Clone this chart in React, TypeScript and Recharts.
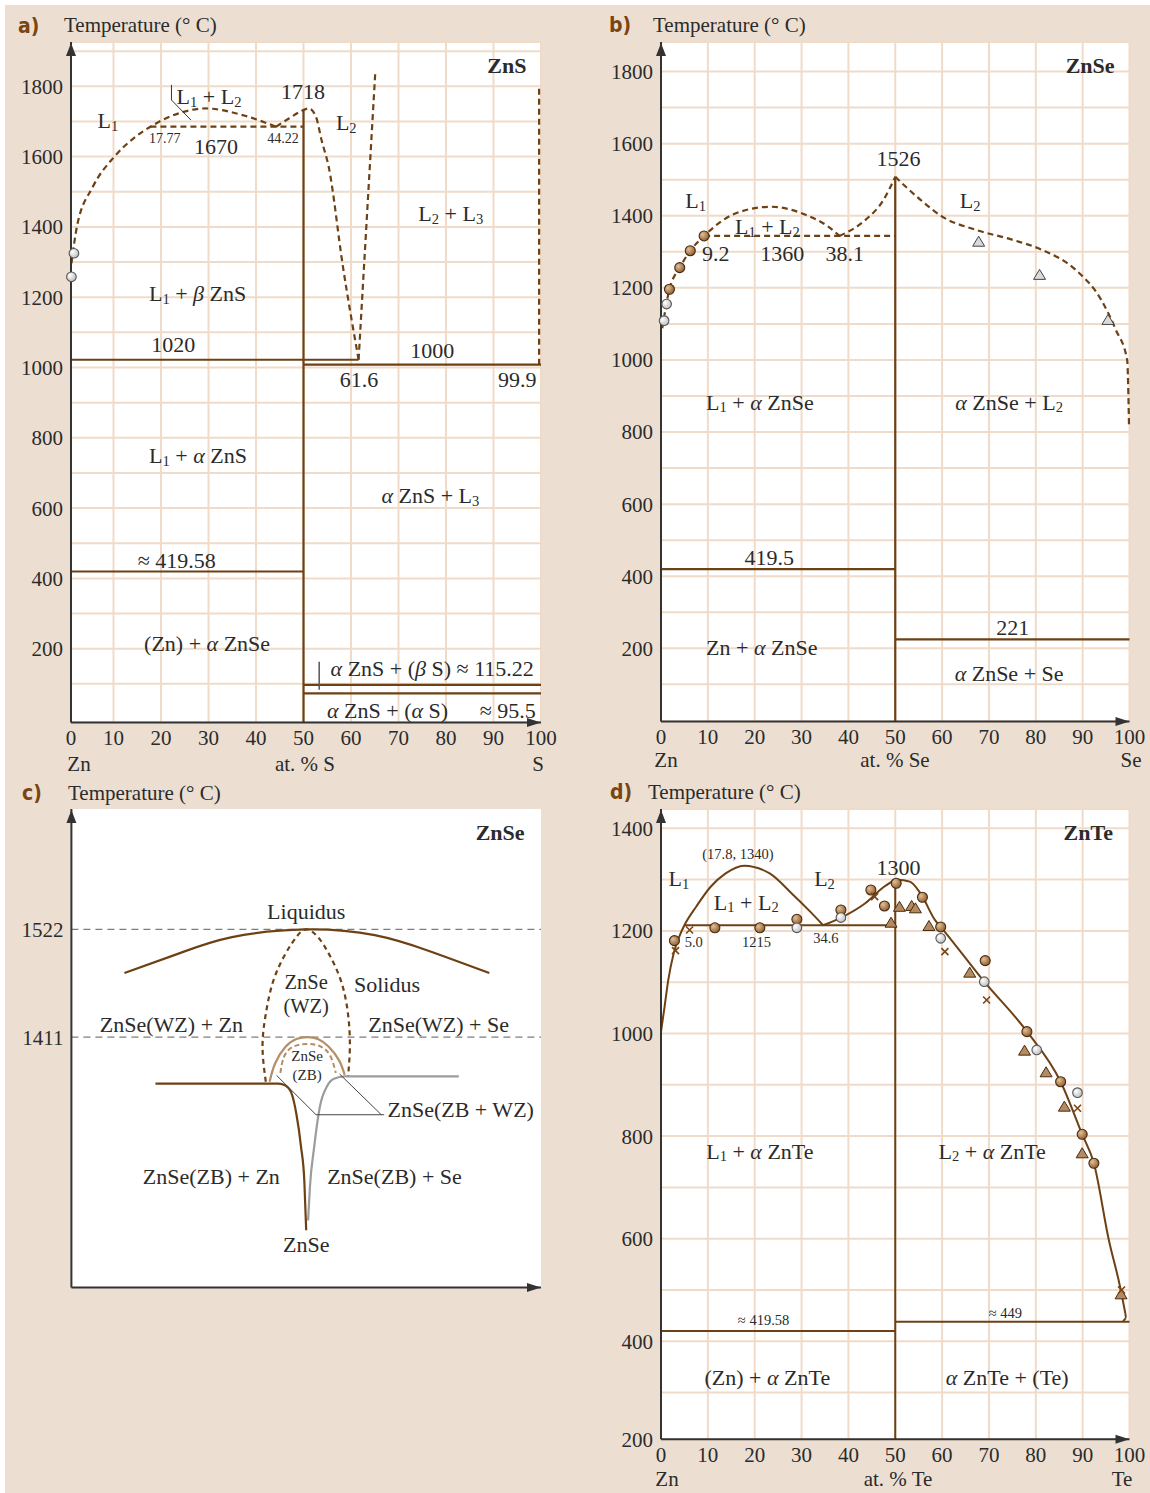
import React from "react";
import { CartesianGrid, ComposedChart, Line, Scatter, XAxis, YAxis } from "recharts";

const SERIF = "'Liberation Serif', 'Times New Roman', serif";
const INK = "#2b2b2b";
const BROWN = "#6d4114";
const TAN = "#b48e69";
const GREY = "#9c9c9c";
const GRID = "#f0dbc9";
const BG = "#ecdfd2";
const DASH = "6 4";

// shared composition axis
const pctTicks = [0, 10, 20, 30, 40, 50, 60, 70, 80, 90, 100];

// ---------- a) Zn–S ----------
const aXTicks = [1.05, 10, 20, 30, 40, 50, 60, 70, 80, 90, 100];
const aYTicks = [100, 200, 300, 400, 500, 600, 700, 800, 900, 1000, 1100, 1200, 1300, 1400, 1500, 1600, 1700, 1800, 1900];
const aLiquidus1 = [[1.14, 1296], [2.3, 1401], [5.65, 1514], [10.2, 1600], [14.7, 1657], [17.77, 1685], [23.7, 1723], [29.3, 1737], [37.2, 1718], [44.22, 1685]];
const aLiquidus2 = [[44.22, 1685], [47, 1709], [49.3, 1728], [51.1, 1737], [52.6, 1714], [53.8, 1647], [55.3, 1571], [58.3, 1287], [61.6, 1022]];
const aLiquidus3 = [[61.6, 1022], [65.1, 1837]];
const aSulfurSide = [[99.6, 1008], [99.6, 1804]];
const aMonotectic = [[17.77, 1685], [50, 1685]];
const aCompound = [[50, -10], [50, 1733]];
const a1020 = [[1.05, 1022], [61.6, 1022]];
const a1000 = [[50, 1008], [100, 1008]];
const a419 = [[1.05, 419.58], [50, 419.58]];
const a115 = [[50, 97], [100, 97]];
const a95 = [[50, 73], [100, 73]];
const aLeader = [[22.2, 1804], [22.2, 1761], [26.3, 1704]];
const aBar = [[53.3, 163], [53.3, 83]];
const aGreyDots = [[1.14, 1258], [1.67, 1325]];
const aLabels = [
  { x: 8.8, y: 1704, t: "L_1" },
  { x: 30.1, y: 1772, t: "L_1 + L_2" },
  { x: 49.9, y: 1788, t: "1718" },
  { x: 59, y: 1699, t: "L_2" },
  { x: 31.6, y: 1631, t: "1670" },
  { x: 81, y: 1439, t: "L_2 + L_3" },
  { x: 27.7, y: 1211, t: "L_1 + β ZnS" },
  { x: 22.6, y: 1067, t: "1020" },
  { x: 77.1, y: 1050, t: "1000" },
  { x: 61.7, y: 966, t: "61.6" },
  { x: 95, y: 966, t: "99.9" },
  { x: 27.8, y: 751, t: "L_1 + α ZnS" },
  { x: 76.7, y: 637, t: "α ZnS + L_3" },
  { x: 23.3, y: 452, t: "≈ 419.58" },
  { x: 29.7, y: 215, t: "(Zn) + α ZnSe" },
  { x: 77.1, y: 144, t: "α ZnS + (β S) ≈ 115.22" },
  { x: 67.7, y: 26, t: "α ZnS + (α S)" },
  { x: 93, y: 26, t: "≈ 95.5" },
];
const aSmall = [
  { x: 20.8, y: 1652, t: "17.77" },
  { x: 45.7, y: 1652, t: "44.22" },
];
const aTitle = [{ x: 92.8, y: 1861, t: "ZnS" }];

// ---------- b) Zn–Se ----------
const bYTicks = [100, 200, 300, 400, 500, 600, 700, 800, 900, 1000, 1100, 1200, 1300, 1400, 1500, 1600, 1700, 1800];
const bLiquidusLeft = [[0.27, 1088], [1.8, 1196], [4, 1256], [6.25, 1303], [9.2, 1344], [16, 1407], [23.5, 1425], [31, 1402], [35.7, 1370], [38.1, 1344]];
const bLiquidusMid = [[38.1, 1344], [43.6, 1388], [47.5, 1444], [50, 1508]];
const bLiquidusRight = [[50, 1508], [55.4, 1444], [60.1, 1397], [67.2, 1361], [75.1, 1333], [81.4, 1305], [88.5, 1250], [94, 1166], [97.1, 1083], [99.5, 1000], [99.9, 815]];
const bMonotectic = [[9.2, 1344], [50, 1344]];
const bCompound = [[50, -3], [50, 1508]];
const b419 = [[0, 419.5], [50, 419.5]];
const b221 = [[50, 225], [100, 225]];
const bGreyDots = [[0.66, 1109], [1.2, 1155]];
const bBrownDots = [[1.8, 1196], [4, 1256], [6.25, 1303], [9.2, 1344]];
const bGreyTri = [[67.8, 1328], [80.8, 1236], [95.4, 1111]];
const bLabels = [
  { x: 50.7, y: 1559, t: "1526" },
  { x: 7.4, y: 1444, t: "L_1" },
  { x: 66, y: 1444, t: "L_2" },
  { x: 22.7, y: 1372, t: "L_1 + L_2" },
  { x: 11.7, y: 1296, t: "9.2" },
  { x: 25.9, y: 1296, t: "1360" },
  { x: 39.2, y: 1296, t: "38.1" },
  { x: 21.1, y: 884, t: "L_1 + α ZnSe" },
  { x: 74.3, y: 884, t: "α ZnSe + L_2" },
  { x: 23.1, y: 454, t: "419.5" },
  { x: 75.1, y: 260, t: "221" },
  { x: 21.5, y: 205, t: "Zn + α ZnSe" },
  { x: 74.3, y: 131, t: "α ZnSe + Se" },
];
const bTitle = [{ x: 91.6, y: 1818, t: "ZnSe" }];

// ---------- c) ZnSe schematic ----------
const cYTicks = [1411, 1522];
const cLine1522 = [[0, 1522], [100, 1522]];
const cLine1411 = [[0, 1411], [100, 1411]];
const cLiquidus = [[11.3, 1477], [22.8, 1497], [34.2, 1514], [50.2, 1522], [64.6, 1516], [76, 1500], [89, 1477]];
const cWurtzite = [[41.4, 1365], [40.7, 1401], [41.4, 1435], [43, 1469], [45.6, 1497], [47.9, 1514], [50, 1522], [52.5, 1514], [54.8, 1497], [57.4, 1469], [58.9, 1435], [59.3, 1401], [58.9, 1370]];
const cZbOuter = [[42.2, 1365], [43.4, 1384], [45.6, 1401], [47.9, 1409], [50.2, 1411], [52.5, 1409], [54.8, 1401], [57, 1387], [58.2, 1372]];
const cZbInner = [[44.5, 1374], [45.3, 1391], [47.2, 1401], [50.2, 1404], [53.2, 1401], [55.2, 1391], [56.3, 1374]];
const cZnSide = [[17.9, 1363], [44.1, 1363], [45.6, 1361], [46.8, 1354], [47.9, 1332], [48.9, 1298], [49.6, 1263], [50, 1212]];
const cSeSide = [[50.4, 1222], [50.8, 1257], [51.7, 1298], [52.9, 1339], [54.4, 1360], [55.9, 1368], [58.2, 1370.5], [82.5, 1370.5]];
const cLeader1 = [[43.7, 1371.5], [52.1, 1331], [66.6, 1331]];
const cLeader2 = [[57.1, 1373], [66, 1331]];
const cLabels = [
  { x: 50, y: 1541, t: "Liquidus" },
  { x: 67.2, y: 1466, t: "Solidus" },
  { x: 21.3, y: 1425, t: "ZnSe(WZ) + Zn" },
  { x: 78.2, y: 1425, t: "ZnSe(WZ) + Se" },
  { x: 82.9, y: 1337, t: "ZnSe(ZB + WZ)" },
  { x: 29.8, y: 1268, t: "ZnSe(ZB) + Zn" },
  { x: 68.8, y: 1268, t: "ZnSe(ZB) + Se" },
  { x: 50, y: 1198, t: "ZnSe" },
];
const cWzLabel = [
  { x: 50, y: 1468, t: "ZnSe" },
  { x: 50, y: 1443, t: "(WZ)" },
];
const cSmall = [
  { x: 50.2, y: 1392, t: "ZnSe" },
  { x: 50.2, y: 1372, t: "(ZB)" },
];
const cTitle = [{ x: 91.3, y: 1622, t: "ZnSe" }];

// ---------- d) Zn–Te ----------
const dYTicks = [209, 300, 400, 500, 600, 700, 800, 900, 1000, 1100, 1200, 1300, 1400];
const dLiquidusLeft = [[0, 1003.6], [0.76, 1052], [1.55, 1104], [2.7, 1156], [3.9, 1189], [5, 1211], [7.5, 1247], [10.6, 1286], [13.8, 1312], [17.7, 1327], [23.2, 1312], [27.9, 1273], [31.9, 1237], [34.6, 1211]];
const dLiquidusMid = [[34.6, 1211], [38.9, 1228], [43.6, 1254], [47.6, 1286], [50, 1300]];
const dLiquidusRight = [[50, 1300], [53.1, 1296], [55.4, 1273], [58.5, 1221], [59.7, 1208], [69, 1101], [78.1, 1004], [85.3, 906], [89.9, 803.5], [92.4, 747], [95.6, 597], [98, 506], [99.1, 455]];
const dHook = [[99.1, 455], [99.3, 445], [98.6, 438]];
const dCompound = [[50, 209], [50, 1300]];
const d1215 = [[5, 1211], [50, 1211]];
const d419 = [[0, 420], [50, 420]];
const d449 = [[50, 438], [100, 438]];
const dBrownDots = [[2.87, 1181], [11.5, 1206], [21.1, 1206], [29, 1222.6], [38.4, 1240.8], [44.8, 1279.8], [47.7, 1248.6], [50.2, 1292.8], [55.8, 1265.5], [59.7, 1207.7], [69.2, 1142], [78.1, 1003.6], [85.3, 906], [89.9, 803.5], [92.4, 747]];
const dGreyDots = [[29, 1206], [38.4, 1226], [59.7, 1185.6], [69, 1101], [80.2, 968], [88.9, 884.7]];
const dTriangles = [[49.1, 1216], [50.9, 1247], [53.5, 1248.6], [54.3, 1244], [57.2, 1209.6], [65.9, 1118.6], [77.6, 966.6], [82.2, 924.4], [86.1, 857.4], [89.9, 766.5], [98.2, 491.6]];
const dCrosses = [[3.1, 1161.5], [6.1, 1201.8], [45.6, 1266.8], [60.6, 1159.6], [69.5, 1065.4], [88.9, 854.2], [98.3, 500]];
const dLabels = [
  { x: 3.8, y: 1302.5, t: "L_1" },
  { x: 34.9, y: 1302.5, t: "L_2" },
  { x: 18.2, y: 1257, t: "L_1 + L_2" },
  { x: 50.7, y: 1325, t: "1300" },
  { x: 21.1, y: 771.7, t: "L_1 + α ZnTe" },
  { x: 70.7, y: 771.7, t: "L_2 + α ZnTe" },
  { x: 22.7, y: 330, t: "(Zn) + α ZnTe" },
  { x: 73.9, y: 330, t: "α ZnTe + (Te)" },
];
const dSmall = [
  { x: 16.4, y: 1350, t: "(17.8, 1340)" },
  { x: 7, y: 1178, t: "5.0" },
  { x: 20.4, y: 1178, t: "1215" },
  { x: 35.2, y: 1187, t: "34.6" },
  { x: 21.9, y: 441.5, t: "≈ 419.58" },
  { x: 73.5, y: 454.6, t: "≈ 449" },
];
const dTitle = [{ x: 91.2, y: 1393.5, t: "ZnTe" }];

// ---------- helpers ----------
const toPts = (pairs: number[][]) => pairs.map(([x, y]) => ({ x, y }));
const tickStyle = { fill: INK, fontSize: 21, fontFamily: SERIF };
const axisLine = { stroke: "#333", strokeWidth: 2 };
// label only every 200 °C, grid every 100 °C
const every200 = (v: number) => (v < 300 && v > 150 ? "200" : v % 200 === 0 ? String(v) : "");

function RichText({ x, y, text, fs = 22, bold = false }: { x: number; y: number; text: string; fs?: number; bold?: boolean }) {
  const tokens: { t: string; sub?: boolean; it?: boolean }[] = [];
  for (let k = 0; k < text.length; k++) {
    const c = text[k];
    if (c === "_") {
      tokens.push({ t: text[k + 1], sub: true });
      k++;
      continue;
    }
    const it = c === "α" || c === "β";
    const last = tokens[tokens.length - 1];
    if (last && !last.sub && !!last.it === it) last.t += c;
    else tokens.push({ t: c, it });
  }
  const shift = fs * 0.26;
  let cur = 0;
  return (
    <text x={x} y={y} textAnchor="middle" dominantBaseline="central" fontSize={fs} fontFamily={SERIF} fontWeight={bold ? 700 : 400} fill={INK} style={{ whiteSpace: "pre" }}>
      {tokens.map((tk, i) => {
        const target = tk.sub ? shift : 0;
        const dy = target - cur;
        cur = target;
        return (
          <tspan key={i} dy={dy !== 0 ? dy : undefined} fontSize={tk.sub ? fs * 0.66 : undefined} fontStyle={tk.it ? "italic" : undefined}>
            {tk.t}
          </tspan>
        );
      })}
    </text>
  );
}

function Marker({ cx, cy, kind }: { cx: number; cy: number; kind: string }) {
  if (kind === "dot") return <circle cx={cx} cy={cy} r={5} fill="url(#dotGrad)" stroke="#4a2a0c" strokeWidth={1.1} />;
  if (kind === "grey") return <circle cx={cx} cy={cy} r={4.8} fill="url(#greyGrad)" stroke="#555" strokeWidth={1.1} />;
  if (kind === "tri") return <path d={`M${cx},${cy - 5.5}L${cx + 6},${cy + 4.5}L${cx - 6},${cy + 4.5}Z`} fill="#b48a62" stroke="#4a2a0c" strokeWidth={1} />;
  if (kind === "greyTri") return <path d={`M${cx},${cy - 5.5}L${cx + 6},${cy + 4.5}L${cx - 6},${cy + 4.5}Z`} fill="#dadada" stroke="#444" strokeWidth={1} />;
  if (kind === "cross")
    return <path d={`M${cx - 3.5},${cy - 3.5}L${cx + 3.5},${cy + 3.5}M${cx - 3.5},${cy + 3.5}L${cx + 3.5},${cy - 3.5}`} stroke="#7a4512" strokeWidth={1.6} />;
  if (kind === "arrowUp") return <path d={`M${cx},${cy + 1}L${cx + 5},${cy + 14}L${cx - 5},${cy + 14}Z`} fill="#333" />;
  if (kind === "arrowRight") return <path d={`M${cx},${cy}L${cx - 14},${cy - 4.5}L${cx - 14},${cy + 4.5}Z`} fill="#333" />;
  return <g />;
}

const gradients = () => (
  <defs>
    <radialGradient id="dotGrad" cx="35%" cy="35%" r="70%">
      <stop offset="0%" stopColor="#e2bf98" />
      <stop offset="100%" stopColor="#8d5c2e" />
    </radialGradient>
    <radialGradient id="greyGrad" cx="35%" cy="35%" r="70%">
      <stop offset="0%" stopColor="#ffffff" />
      <stop offset="100%" stopColor="#bdbdbd" />
    </radialGradient>
  </defs>
);

function curve(key: string, pairs: number[][], stroke: string, dash?: string, w = 2.2, type: any = "linear") {
  return (
    <Line
      key={key}
      data={toPts(pairs)}
      dataKey="y"
      type={type}
      stroke={stroke}
      strokeWidth={w}
      strokeDasharray={dash}
      dot={false}
      activeDot={false}
      legendType="none"
      isAnimationActive={false}
    />
  );
}

function labelLayer(key: string, list: { x: number; y: number; t: string }[], fs: number, bold = false) {
  return (
    <Scatter
      key={key}
      data={list}
      isAnimationActive={false}
      shape={(p: any) => <RichText x={p.cx} y={p.cy} text={p.payload.t} fs={fs} bold={bold} />}
    />
  );
}

function markerLayer(key: string, pairs: number[][], kind: string) {
  return <Scatter key={key} data={toPts(pairs)} isAnimationActive={false} shape={(p: any) => <Marker cx={p.cx} cy={p.cy} kind={kind} />} />;
}

function arrows(xd: number[], yd: number[]) {
  return [markerLayer("arrowY", [[xd[0], yd[1]]], "arrowUp"), markerLayer("arrowX", [[xd[1], yd[0]]], "arrowRight")];
}

// chart box on the page and its plot rectangle
function margins(left: number, top: number, w: number, h: number, pl: number, pr: number, pt: number, pb: number) {
  return { left: pl - left - 60, right: left + w - pr, top: pt - top, bottom: top + h - pb - 30 };
}

function PanelA() {
  const xd = [1.05, 100];
  const yd = [-10, 1926];
  return (
    <div style={{ position: "absolute", left: 0, top: 0 }}>
      <ComposedChart width={575} height={790} margin={margins(0, 0, 575, 790, 71, 541, 42, 722.5)}>
        {gradients()}
        <CartesianGrid fill="#fff" stroke={GRID} strokeWidth={2} />
        <XAxis type="number" dataKey="x" domain={xd} ticks={aXTicks} interval={0} tickFormatter={(v: number) => (v < 5 ? "0" : String(v))} tickLine={false} axisLine={axisLine} tick={tickStyle} height={30} />
        <YAxis type="number" dataKey="y" domain={yd} ticks={aYTicks} interval={0} tickFormatter={every200} tickLine={false} axisLine={axisLine} tick={tickStyle} width={60} />
        {curve("a1020", a1020, BROWN)}
        {curve("a1000", a1000, BROWN)}
        {curve("a419", a419, BROWN)}
        {curve("a115", a115, BROWN)}
        {curve("a95", a95, BROWN)}
        {curve("aComp", aCompound, BROWN)}
        {curve("aMono", aMonotectic, BROWN, DASH)}
        {curve("aL1", aLiquidus1, BROWN, DASH, 2.2, "monotone")}
        {curve("aL2", aLiquidus2, BROWN, DASH, 2.2, "monotone")}
        {curve("aL3", aLiquidus3, BROWN, DASH)}
        {curve("aS", aSulfurSide, BROWN, DASH)}
        {curve("aLead", aLeader, "#333", undefined, 1)}
        {curve("aBar", aBar, "#555", undefined, 1.5)}
        {markerLayer("aDots", aGreyDots, "grey")}
        {labelLayer("aLab", aLabels, 22)}
        {labelLayer("aSm", aSmall, 14)}
        {labelLayer("aTi", aTitle, 22, true)}
        {arrows(xd, yd)}
      </ComposedChart>
    </div>
  );
}

function PanelB() {
  const xd = [0, 100];
  const yd = [-3, 1882];
  return (
    <div style={{ position: "absolute", left: 575, top: 0 }}>
      <ComposedChart width={575} height={790} margin={margins(575, 0, 575, 790, 661, 1129.5, 42, 721.5)}>
        {gradients()}
        <CartesianGrid fill="#fff" stroke={GRID} strokeWidth={2} />
        <XAxis type="number" dataKey="x" domain={xd} ticks={pctTicks} interval={0} tickLine={false} axisLine={axisLine} tick={tickStyle} height={30} />
        <YAxis type="number" dataKey="y" domain={yd} ticks={bYTicks} interval={0} tickFormatter={every200} tickLine={false} axisLine={axisLine} tick={tickStyle} width={60} />
        {curve("b419", b419, BROWN)}
        {curve("b221", b221, BROWN)}
        {curve("bComp", bCompound, BROWN)}
        {curve("bMono", bMonotectic, BROWN, DASH)}
        {curve("bL1", bLiquidusLeft, BROWN, DASH, 2.2, "monotone")}
        {curve("bL2", bLiquidusMid, BROWN, DASH, 2.2, "monotone")}
        {curve("bL3", bLiquidusRight, BROWN, DASH, 2.2, "monotone")}
        {markerLayer("bGd", bGreyDots, "grey")}
        {markerLayer("bBd", bBrownDots, "dot")}
        {markerLayer("bGt", bGreyTri, "greyTri")}
        {labelLayer("bLab", bLabels, 22)}
        {labelLayer("bTi", bTitle, 22, true)}
        {arrows(xd, yd)}
      </ComposedChart>
    </div>
  );
}

function PanelC() {
  const xd = [0, 100];
  const yd = [1153, 1646];
  return (
    <div style={{ position: "absolute", left: 0, top: 780 }}>
      <ComposedChart width={575} height={560} margin={margins(0, 780, 575, 560, 71.4, 541, 809, 1287.5)}>
        <CartesianGrid fill="#fff" horizontal={false} vertical={false} />
        <XAxis type="number" dataKey="x" domain={xd} ticks={[]} tick={false} tickLine={false} axisLine={axisLine} height={30} />
        <YAxis type="number" dataKey="y" domain={yd} ticks={cYTicks} interval={0} tickLine={false} axisLine={axisLine} tick={tickStyle} width={60} />
        {curve("c1522", cLine1522, "#7c7c7c", "7 5", 1.3)}
        {curve("c1411", cLine1411, "#7c7c7c", "7 5", 1.3)}
        {curve("cLiq", cLiquidus, BROWN, undefined, 2.2, "natural")}
        {curve("cWz", cWurtzite, BROWN, "5 4", 2.2, "natural")}
        {curve("cZbO", cZbOuter, TAN, undefined, 2.2, "natural")}
        {curve("cZbI", cZbInner, TAN, "5 3", 2, "natural")}
        {curve("cZn", cZnSide, BROWN, undefined, 2.2, "monotone")}
        {curve("cSe", cSeSide, GREY, undefined, 2.2, "monotone")}
        {curve("cLd1", cLeader1, "#444", undefined, 1)}
        {curve("cLd2", cLeader2, "#444", undefined, 1)}
        {labelLayer("cLab", cLabels, 22)}
        {labelLayer("cWz", cWzLabel, 20.5)}
        {labelLayer("cSm", cSmall, 15)}
        {labelLayer("cTi", cTitle, 22, true)}
        {arrows(xd, yd)}
      </ComposedChart>
    </div>
  );
}

function PanelD() {
  const xd = [0, 100];
  const yd = [209, 1437.6];
  return (
    <div style={{ position: "absolute", left: 575, top: 780 }}>
      <ComposedChart width={575} height={713} margin={margins(575, 780, 575, 713, 661, 1129.5, 809, 1439.3)}>
        {gradients()}
        <CartesianGrid fill="#fff" stroke={GRID} strokeWidth={2} />
        <XAxis type="number" dataKey="x" domain={xd} ticks={pctTicks} interval={0} tickLine={false} axisLine={axisLine} tick={tickStyle} height={30} />
        <YAxis type="number" dataKey="y" domain={yd} ticks={dYTicks} interval={0} tickFormatter={every200} tickLine={false} axisLine={axisLine} tick={tickStyle} width={60} />
        {curve("d419", d419, BROWN, undefined, 2)}
        {curve("d449", d449, BROWN, undefined, 2)}
        {curve("d1215", d1215, BROWN, undefined, 2)}
        {curve("dComp", dCompound, BROWN, undefined, 2)}
        {curve("dL1", dLiquidusLeft, BROWN, undefined, 2, "monotone")}
        {curve("dL2", dLiquidusMid, BROWN, undefined, 2, "monotone")}
        {curve("dL3", dLiquidusRight, BROWN, undefined, 2, "monotone")}
        {curve("dHook", dHook, BROWN, undefined, 2, "monotone")}
        {markerLayer("dBd", dBrownDots, "dot")}
        {markerLayer("dGd", dGreyDots, "grey")}
        {markerLayer("dTr", dTriangles, "tri")}
        {markerLayer("dCr", dCrosses, "cross")}
        {labelLayer("dLab", dLabels, 22)}
        {labelLayer("dSm", dSmall, 14.5)}
        {labelLayer("dTi", dTitle, 22, true)}
        {arrows(xd, yd)}
      </ComposedChart>
    </div>
  );
}

function Caption({ x, y, text, anchor = "middle", letter = false }: { x: number; y: number; text: string; anchor?: string; letter?: boolean }) {
  const tx = anchor === "middle" ? "-50%" : "0";
  return (
    <div
      style={{
        position: "absolute",
        left: x,
        top: y,
        transform: `translate(${tx}, -55%)`,
        whiteSpace: "nowrap",
        lineHeight: 1,
        fontSize: 21,
        fontWeight: letter ? 700 : 400,
        color: letter ? "#7a4512" : INK,
        fontFamily: letter ? "'DejaVu Sans Condensed', 'Liberation Sans Narrow', 'DejaVu Sans', sans-serif" : SERIF,
      }}
    >
      {text}
    </div>
  );
}

export default function App() {
  return (
    <div style={{ position: "absolute", left: 0, top: 0, width: 1150, height: 1493, background: "#fff", overflow: "hidden" }}>
      <div style={{ position: "absolute", left: 5, top: 5, width: 1145, height: 1488, background: BG }} />
      <PanelA />
      <PanelB />
      <PanelC />
      <PanelD />
      <Caption x={18} y={28} text="a)" anchor="start" letter />
      <Caption x={64} y={27} text="Temperature (° C)" anchor="start" />
      <Caption x={609} y={27} text="b)" anchor="start" letter />
      <Caption x={653} y={27} text="Temperature (° C)" anchor="start" />
      <Caption x={22} y={795} text="c)" anchor="start" letter />
      <Caption x={68} y={795} text="Temperature (° C)" anchor="start" />
      <Caption x={610} y={794} text="d)" anchor="start" letter />
      <Caption x={648} y={794} text="Temperature (° C)" anchor="start" />
      <Caption x={79} y={766} text="Zn" />
      <Caption x={305} y={766} text="at. % S" />
      <Caption x={538} y={766} text="S" />
      <Caption x={666} y={762} text="Zn" />
      <Caption x={895} y={762} text="at. % Se" />
      <Caption x={1131} y={762} text="Se" />
      <Caption x={667} y={1481} text="Zn" />
      <Caption x={898} y={1481} text="at. % Te" />
      <Caption x={1122} y={1481} text="Te" />
    </div>
  );
}
